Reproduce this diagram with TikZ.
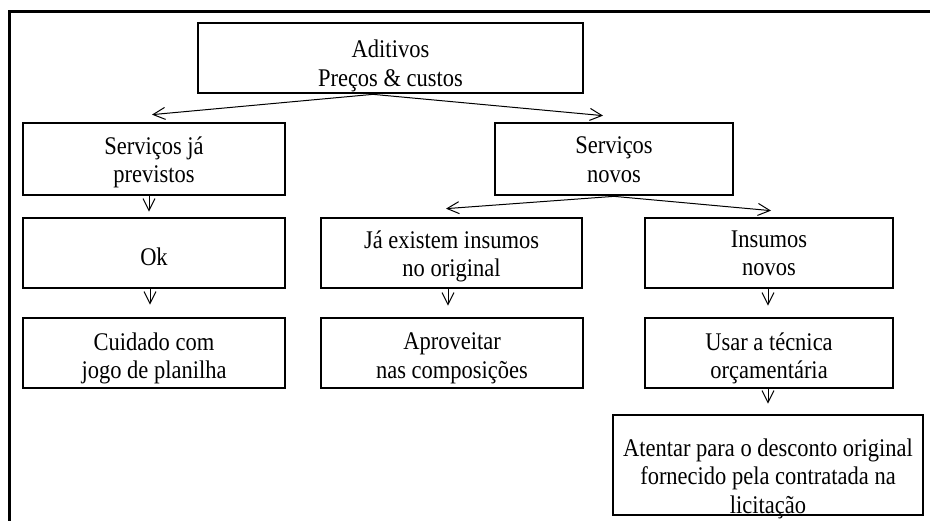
\documentclass[tikz,border=0pt]{standalone}
\usepackage{fontspec}
\usepackage{graphicx}
\setmainfont{Liberation Serif}
\usetikzlibrary{arrows.meta}
% slightly tall text lines
\newcommand{\tl}[1]{\scalebox{1}[1.13]{#1}}
\begin{document}
\begin{tikzpicture}[x=1pt,y=-1pt,
  box/.style 2 args={draw, line width=2.7pt, inner sep=0pt, minimum width=#1, minimum height=#2},
  lbl/.style={anchor=north, align=center, inner sep=0pt, font=\fontsize{22.5}{28.5}\selectfont},
  arr/.style={line width=1pt, -{Straight Barb[length=12pt,width=12pt]}},
  frame/.style={line width=3pt, line join=miter}
]
\useasboundingbox (0,0) rectangle (930,521);

% outer frame (open at the right and bottom)
\draw[frame] (9,521) -- (9,12) -- (932,12);

% boxes
\node[box={385}{70}] (top) at (390.5,58) {};
\node[box={262}{72}] (sjp) at (154,159) {};
\node[box={238}{72}] (sn) at (614,159) {};
\node[box={262}{70}] (ok) at (154,253) {};
\node[box={261}{70}] (je) at (451.5,253) {};
\node[box={248}{70}] (ins) at (769,253) {};
\node[box={262}{70}] (cu) at (154,353) {};
\node[box={262}{70}] (ap) at (452,353) {};
\node[box={248}{70}] (us) at (769,353) {};
\node[box={310}{100}] (at) at (768,465) {};

% box texts
\node[lbl] (topT) at (390.5,40) {\tl{Aditivos}\\\tl{Preços \& custos}};
\node[lbl] (sjpT) at (154,136.5) {\tl{Serviços já}\\\tl{previstos}};
\node[lbl] (snT) at (614,136.5) {\tl{Serviços}\\\tl{novos}};
\node[lbl] (okT) at (154,247.5) {\tl{Ok}};
\node[lbl] (jeT) at (451.5,230.5) {\tl{Já existem insumos}\\\tl{no original}};
\node[lbl] (insT) at (769,230.5) {\tl{Insumos}\\\tl{novos}};
\node[lbl] (cuT) at (154,332.5) {\tl{Cuidado com}\\\tl{jogo de planilha}};
\node[lbl] (apT) at (452,332.5) {\tl{Aproveitar}\\\tl{nas composições}};
\node[lbl] (usT) at (769,332.5) {\tl{Usar a técnica}\\\tl{orçamentária}};
\node[lbl] (atT) at (768,438.5) {\tl{Atentar para o desconto original}\\\tl{fornecido pela contratada na}\\\tl{licitação}};

% branching arrows
\draw[arr] ([xshift=-17.5pt]top.south) -- ([shift={(-2,-7)}]sjp.north);
\draw[arr] ([xshift=-17.5pt]top.south) -- ([shift={(-11,-6)}]sn.north);
\draw[arr] (sn.south) -- ([shift={(-5.5,-8)}]je.north);
\draw[arr] (sn.south) -- ([shift={(2,-6)}]ins.north);

% vertical arrows
\draw[arr, shorten >=5pt] ([xshift=-5pt]sjp.south) -- ([xshift=-5pt]ok.north);
\draw[arr, shorten >=12pt] ([xshift=-4pt]ok.south) -- ([xshift=-4pt]cu.north);
\draw[arr, shorten >=11pt] ([xshift=-3.5pt]je.south) -- ([xshift=-4pt]ap.north);
\draw[arr, shorten >=11pt] ([xshift=-1pt]ins.south) -- ([xshift=-1pt]us.north);
\draw[arr, shorten >=10pt] ([xshift=-1pt]us.south) -- (at.north);
\end{tikzpicture}
\end{document}
